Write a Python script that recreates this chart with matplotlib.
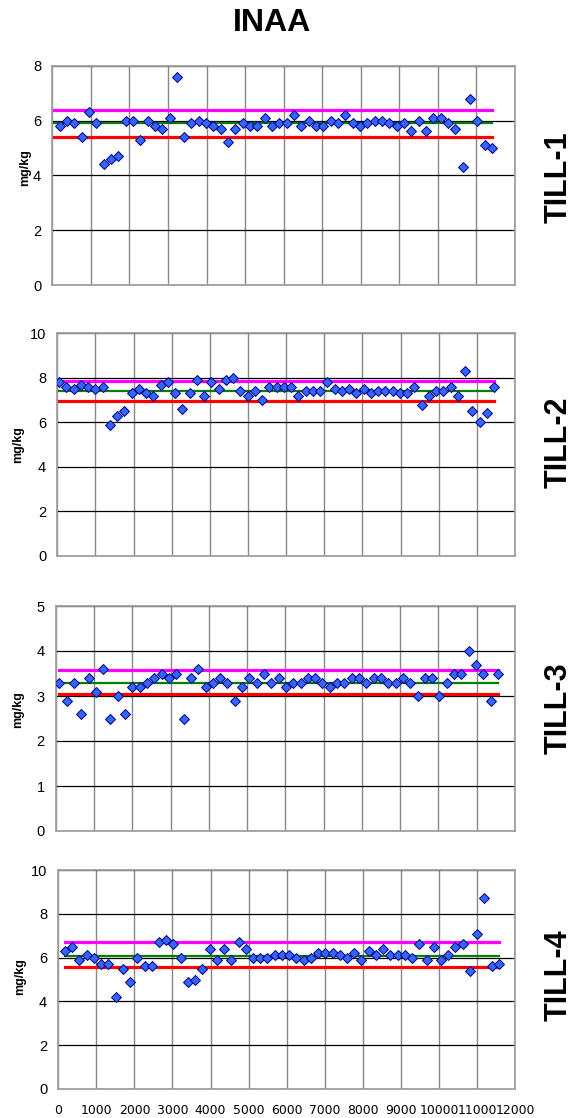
import numpy as np
import matplotlib
matplotlib.use('Agg')
import matplotlib.pyplot as plt

plt.rcParams['font.family'] = ['Liberation Sans', 'DejaVu Sans']

# sample positions (x) for each panel
x1 = [190, 380, 570, 760, 950, 1140, 1330, 1520, 1710, 1900,
      2090, 2280, 2470, 2660, 2850, 3040, 3230, 3420, 3610, 3800,
      3990, 4180, 4370, 4560, 4750, 4940, 5130, 5320, 5510, 5700,
      5890, 6080, 6270, 6460, 6650, 6840, 7030, 7220, 7410, 7600,
      7790, 7980, 8170, 8360, 8550, 8740, 8930, 9120, 9310, 9500,
      9690, 9880, 10070, 10260, 10450, 10640, 10830, 11020, 11210, 11400]
x2 = [50, 240, 430, 620, 810, 1000, 1190, 1380, 1570, 1760,
      1950, 2140, 2330, 2520, 2710, 2900, 3090, 3280, 3470, 3660,
      3850, 4040, 4230, 4420, 4610, 4800, 4990, 5180, 5370, 5560,
      5750, 5940, 6130, 6320, 6510, 6700, 6890, 7080, 7270, 7460,
      7650, 7840, 8030, 8220, 8410, 8600, 8790, 8980, 9170, 9360,
      9550, 9740, 9930, 10120, 10310, 10500, 10690, 10880, 11070, 11260,
      11450]
x3 = [94, 285, 476, 667, 858, 1049, 1240, 1431, 1622, 1813,
      2004, 2195, 2386, 2577, 2768, 2959, 3150, 3341, 3532, 3723,
      3914, 4105, 4296, 4487, 4678, 4869, 5060, 5251, 5442, 5633,
      5824, 6015, 6206, 6397, 6588, 6779, 6970, 7161, 7352, 7543,
      7734, 7925, 8116, 8307, 8498, 8689, 8880, 9071, 9262, 9453,
      9644, 9835, 10026, 10217, 10408, 10599, 10790, 10981, 11172, 11363,
      11554]
x4 = [176, 366, 556, 746, 936, 1126, 1316, 1506, 1696, 1886,
      2076, 2266, 2456, 2646, 2836, 3026, 3216, 3406, 3596, 3786,
      3976, 4166, 4356, 4546, 4736, 4926, 5116, 5306, 5496, 5686,
      5876, 6066, 6256, 6446, 6636, 6826, 7016, 7206, 7396, 7586,
      7776, 7966, 8156, 8346, 8536, 8726, 8916, 9106, 9296, 9486,
      9676, 9866, 10056, 10246, 10436, 10626, 10816, 11006, 11196, 11386,
      11576]

# measured values (mg/kg)
y1 = [5.8, 6.0, 5.9, 5.4, 6.3, 5.9, 4.4, 4.6, 4.7, 6.0,
      6.0, 5.3, 6.0, 5.8, 5.7, 6.1, 7.6, 5.4, 5.9, 6.0,
      5.9, 5.8, 5.7, 5.2, 5.7, 5.9, 5.8, 5.8, 6.1, 5.8,
      5.9, 5.9, 6.2, 5.8, 6.0, 5.8, 5.8, 6.0, 5.9, 6.2,
      5.9, 5.8, 5.9, 6.0, 6.0, 5.9, 5.8, 5.9, 5.6, 6.0,
      5.6, 6.1, 6.1, 5.9, 5.7, 4.3, 6.8, 6.0, 5.1, 5.0]
y2 = [7.8, 7.6, 7.5, 7.7, 7.6, 7.5, 7.6, 5.9, 6.3, 6.5,
      7.3, 7.5, 7.3, 7.2, 7.7, 7.8, 7.3, 6.6, 7.3, 7.9,
      7.2, 7.8, 7.5, 7.9, 8.0, 7.4, 7.2, 7.4, 7.0, 7.6,
      7.6, 7.6, 7.6, 7.2, 7.4, 7.4, 7.4, 7.8, 7.5, 7.4,
      7.5, 7.3, 7.5, 7.3, 7.4, 7.4, 7.4, 7.3, 7.3, 7.6,
      6.8, 7.2, 7.4, 7.4, 7.6, 7.2, 8.3, 6.5, 6.0, 6.4,
      7.6]
y3 = [3.3, 2.9, 3.3, 2.6, 3.4, 3.1, 3.6, 2.5, 3.0, 2.6,
      3.2, 3.2, 3.3, 3.4, 3.5, 3.4, 3.5, 2.5, 3.4, 3.6,
      3.2, 3.3, 3.4, 3.3, 2.9, 3.2, 3.4, 3.3, 3.5, 3.3,
      3.4, 3.2, 3.3, 3.3, 3.4, 3.4, 3.3, 3.2, 3.3, 3.3,
      3.4, 3.4, 3.3, 3.4, 3.4, 3.3, 3.3, 3.4, 3.3, 3.0,
      3.4, 3.4, 3.0, 3.3, 3.5, 3.5, 4.0, 3.7, 3.5, 2.9,
      3.5]
y4 = [6.3, 6.5, 5.9, 6.1, 6.0, 5.7, 5.7, 4.2, 5.5, 4.9,
      6.0, 5.6, 5.6, 6.7, 6.8, 6.6, 6.0, 4.9, 5.0, 5.5,
      6.4, 5.9, 6.4, 5.9, 6.7, 6.4, 6.0, 6.0, 6.0, 6.1,
      6.1, 6.1, 6.0, 5.9, 6.0, 6.2, 6.2, 6.2, 6.1, 6.0,
      6.2, 5.9, 6.3, 6.1, 6.4, 6.1, 6.1, 6.1, 6.0, 6.6,
      5.9, 6.5, 5.9, 6.1, 6.5, 6.6, 5.4, 7.1, 8.7, 5.6,
      5.7]

# upper limit, mean, lower limit
upper = [6.4, 7.85, 3.57, 6.70]
mean = [5.9, 7.4, 3.30, 6.09]
lower = [5.4, 6.95, 3.04, 5.56]
line_start = [0, 0, 94, 176]

names = ['TILL-1', 'TILL-2', 'TILL-3', 'TILL-4']
ymax = [8, 10, 5, 10]
ystep = [2, 2, 1, 2]
xs = [x1, x2, x3, x4]
ys = [y1, y2, y3, y4]

W, H = 581, 1118
# axes boxes in pixels: left, top, right, bottom
boxes = [(52.3, 65.7, 515, 285), (57.3, 333.3, 515, 556),
         (55.7, 606, 515, 831), (58.3, 870, 515, 1089)]
mg_pos = [(25, 168), (18, 445), (18, 710), (20, 977)]
till_pos = [(559, 177), (559, 442), (559, 708), (559, 975)]

fig = plt.figure(figsize=(W/100, H/100), dpi=100)
fig.text(272/W, 1-23/H, 'INAA', ha='center', va='center', fontsize=23, fontweight='bold')

for i in range(4):
    l, t, r, b = boxes[i]
    ax = fig.add_axes([l/W, 1-b/H, (r-l)/W, (b-t)/H])
    x = xs[i]
    ax.plot([line_start[i], x[-1]], [upper[i], upper[i]], color='#FF00FF', lw=2.3, zorder=2)
    ax.plot([line_start[i], x[-1]], [mean[i], mean[i]], color='#008000', lw=1.6, zorder=2)
    ax.plot([line_start[i], x[-1]], [lower[i], lower[i]], color='#FF0000', lw=2.3, zorder=2)
    ax.plot(x, ys[i], 'D', ms=4.9, mfc='#3366FF', mec='#000080', mew=0.7, zorder=3)
    ax.set_xlim(0, 12000)
    ax.set_ylim(0, ymax[i])
    ax.set_xticks(np.arange(0, 12001, 1000))
    ax.set_yticks(np.arange(0, ymax[i]+0.1, ystep[i]))
    ax.xaxis.grid(True, color='#888888', lw=1)
    ax.yaxis.grid(True, color='black', lw=0.9)
    ax.set_axisbelow(True)
    for s in ax.spines.values():
        s.set_color('#A0A0A0')
        s.set_linewidth(1.3)
    ax.tick_params(length=0, labelsize=10.5, pad=8)
    ax.tick_params(axis='x', labelsize=8.9, pad=11)
    if i < 3:
        ax.set_xticklabels([])
    else:
        ax.set_xticklabels([str(v) for v in range(0, 12001, 1000)], family=['DejaVu Sans'])
    fig.text(mg_pos[i][0]/W, 1-mg_pos[i][1]/H, 'mg/kg', rotation=90, ha='center', va='center',
             fontsize=9, fontweight='bold')
    fig.text(till_pos[i][0]/W, 1-till_pos[i][1]/H, names[i], rotation=90, ha='center', va='center',
             fontsize=22, fontweight='bold')

plt.savefig('out.png', dpi=100)
